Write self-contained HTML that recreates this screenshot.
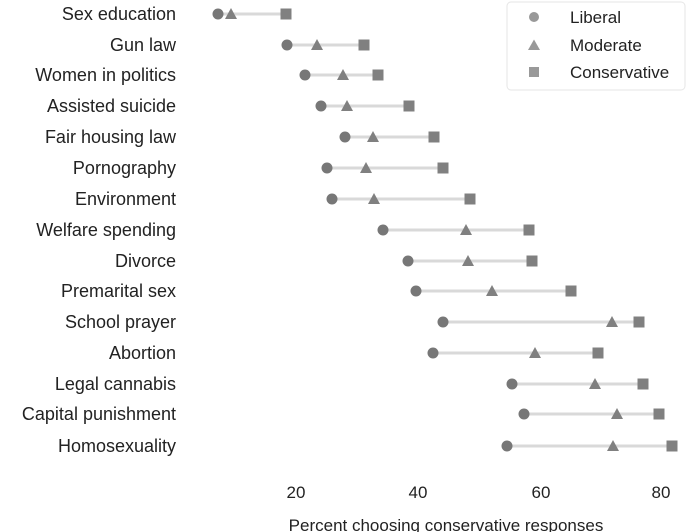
<!DOCTYPE html>
<html><head><meta charset="utf-8"><style>body{margin:0;background:#fff}svg{display:block;font-family:"Liberation Sans","DejaVu Sans",sans-serif}</style></head><body>
<svg width="693" height="532" viewBox="0 0 693 532" xmlns="http://www.w3.org/2000/svg">
<defs>
<circle id="c" r="5.5" fill="#777"/>
<polygon id="t" points="0,-6 6,5 -6,5" fill="#808080"/>
<rect id="s" x="-5.5" y="-5.5" width="11" height="11" fill="#808080"/>
</defs>
<g font-size="18" fill="#222" text-anchor="end">
<text x="176" y="20">Sex education</text>
<text x="176" y="51">Gun law</text>
<text x="176" y="81">Women in politics</text>
<text x="176" y="112">Assisted suicide</text>
<text x="176" y="143">Fair housing law</text>
<text x="176" y="174">Pornography</text>
<text x="176" y="205">Environment</text>
<text x="176" y="236">Welfare spending</text>
<text x="176" y="267">Divorce</text>
<text x="176" y="297">Premarital sex</text>
<text x="176" y="328">School prayer</text>
<text x="176" y="359">Abortion</text>
<text x="176" y="390">Legal cannabis</text>
<text x="176" y="420">Capital punishment</text>
<text x="176" y="452">Homosexuality</text>
</g>
<g stroke="#d9d9d9" stroke-width="3">
<line x1="218" x2="286" y1="14" y2="14"/>
<line x1="287" x2="364" y1="45" y2="45"/>
<line x1="305" x2="378" y1="75" y2="75"/>
<line x1="321" x2="409" y1="106" y2="106"/>
<line x1="345" x2="434" y1="137" y2="137"/>
<line x1="327" x2="443" y1="168" y2="168"/>
<line x1="332" x2="470" y1="199" y2="199"/>
<line x1="383" x2="529" y1="230" y2="230"/>
<line x1="408" x2="532" y1="261" y2="261"/>
<line x1="416" x2="571" y1="291" y2="291"/>
<line x1="443" x2="639" y1="322" y2="322"/>
<line x1="433" x2="598" y1="353" y2="353"/>
<line x1="512" x2="643" y1="384" y2="384"/>
<line x1="524" x2="659" y1="414" y2="414"/>
<line x1="507" x2="672" y1="446" y2="446"/>
</g>
<use href="#c" x="218" y="14"/><use href="#t" x="231" y="14"/><use href="#s" x="286" y="14"/>
<use href="#c" x="287" y="45"/><use href="#t" x="317" y="45"/><use href="#s" x="364" y="45"/>
<use href="#c" x="305" y="75"/><use href="#t" x="343" y="75"/><use href="#s" x="378" y="75"/>
<use href="#c" x="321" y="106"/><use href="#t" x="347" y="106"/><use href="#s" x="409" y="106"/>
<use href="#c" x="345" y="137"/><use href="#t" x="373" y="137"/><use href="#s" x="434" y="137"/>
<use href="#c" x="327" y="168"/><use href="#t" x="366" y="168"/><use href="#s" x="443" y="168"/>
<use href="#c" x="332" y="199"/><use href="#t" x="374" y="199"/><use href="#s" x="470" y="199"/>
<use href="#c" x="383" y="230"/><use href="#t" x="466" y="230"/><use href="#s" x="529" y="230"/>
<use href="#c" x="408" y="261"/><use href="#t" x="468" y="261"/><use href="#s" x="532" y="261"/>
<use href="#c" x="416" y="291"/><use href="#t" x="492" y="291"/><use href="#s" x="571" y="291"/>
<use href="#c" x="443" y="322"/><use href="#t" x="612" y="322"/><use href="#s" x="639" y="322"/>
<use href="#c" x="433" y="353"/><use href="#t" x="535" y="353"/><use href="#s" x="598" y="353"/>
<use href="#c" x="512" y="384"/><use href="#t" x="595" y="384"/><use href="#s" x="643" y="384"/>
<use href="#c" x="524" y="414"/><use href="#t" x="617" y="414"/><use href="#s" x="659" y="414"/>
<use href="#c" x="507" y="446"/><use href="#t" x="613" y="446"/><use href="#s" x="672" y="446"/>
<rect x="507" y="2" width="178" height="88" rx="4" fill="#fff" stroke="#e6e6e6"/>
<circle cx="534" cy="17" r="5" fill="#999"/>
<polygon points="534,39.5 540,50 528,50" fill="#999"/>
<rect x="529" y="67" width="10" height="10" fill="#999"/>
<g font-size="17" fill="#222"><text x="570" y="23">Liberal</text><text x="570" y="51">Moderate</text><text x="570" y="78">Conservative</text></g>
<g font-size="17" fill="#222" text-anchor="middle"><text x="296" y="498">20</text><text x="418" y="498">40</text><text x="541" y="498">60</text><text x="661" y="498">80</text>
<text x="446" y="531">Percent choosing conservative responses</text></g>
</svg></body></html>
